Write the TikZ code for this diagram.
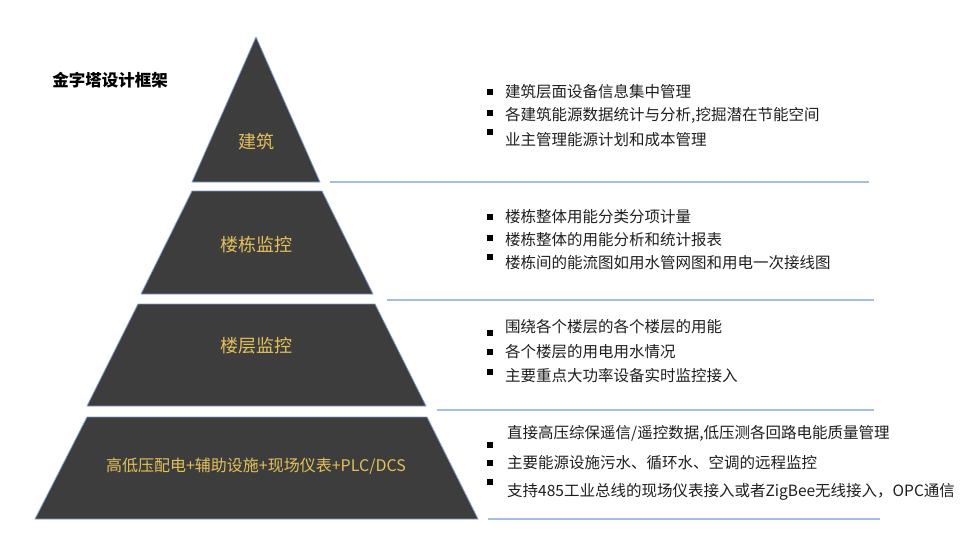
\documentclass[tikz,border=0pt]{standalone}
\usepackage{fontspec}
\setmainfont{Noto Sans CJK SC}
\usepackage{xcolor}
\usepackage{tikz}
\definecolor{pyrgray}{HTML}{3D3D3D}
\definecolor{pyredge}{HTML}{7F9DCF}
\definecolor{gold}{HTML}{E3C05A}
\definecolor{lineblue}{HTML}{A6BDE3}
\definecolor{textgray}{HTML}{1E1E1E}

\tikzset{
  band/.style={fill=pyrgray, draw=pyredge, line width=0.8pt, line join=round},
  bandlabel/.style={text=gold, inner sep=0pt, font=\fontsize{18}{20}\selectfont},
  sepline/.style={draw=lineblue, line width=2pt},
  bullet/.style={fill=black, minimum size=6pt, inner sep=0pt},
  itemtext/.style={anchor=west, inner sep=0pt, text=textgray, font=\fontsize{15.5}{18}\selectfont},
}

\begin{document}
\begin{tikzpicture}[x=1pt, y=-1pt]
\useasboundingbox (0,0) rectangle (960,539);

% pyramid bands
\filldraw[band] (256,37) -- (320,182) -- (192,182) -- cycle;
\filldraw[band] (192,191) -- (322,191) -- (373,294) -- (141,294) -- cycle;
\filldraw[band] (138,304) -- (375,304) -- (426,406) -- (87,406) -- cycle;
\filldraw[band] (87,417) -- (427,417) -- (478,519) -- (35,519) -- cycle;

% separator lines
\coordinate (sepA) at (330,182);
\coordinate (sepB) at (387,300);
\coordinate (sepC) at (437,410);
\coordinate (sepD) at (488,519);
\draw[sepline] (sepA) -- (869,182);
\draw[sepline] (sepB) -- (874,300);
\draw[sepline] (sepC) -- (874,410);
\draw[sepline] (sepD) -- (880,519);

% title
\node[font=\fontsize{16.5}{19}\selectfont\bfseries, inner sep=0pt] (title) at (110,80) {金字塔设计框架};

% band labels
\node[bandlabel] (building) at (256,142) {建筑};
\node[bandlabel] (block) at (256,245) {楼栋监控};
\node[bandlabel] (floor) at (256,346) {楼层监控};
\node[bandlabel, font=\fontsize{16}{19}\selectfont] (field) at (256,466) {高低压配电+辅助设施+现场仪表+PLC/DCS};

% building items
\node[bullet] (bA1) at (490,92) {};
\node[bullet] (bA2) at (490,113) {};
\node[bullet] (bA3) at (490,132) {};
\node[itemtext] (tA1) at (505,92) {建筑层面设备信息集中管理};
\node[itemtext] (tA2) at (505,115) {各建筑能源数据统计与分析,挖掘潜在节能空间};
\node[itemtext] (tA3) at (505,140) {业主管理能源计划和成本管理};

% block items
\node[bullet] (bB1) at (490,217) {};
\node[bullet] (bB2) at (490,238) {};
\node[bullet] (bB3) at (490,257) {};
\node[itemtext] (tB1) at (505,217) {楼栋整体用能分类分项计量};
\node[itemtext] (tB2) at (505,240) {楼栋整体的用能分析和统计报表};
\node[itemtext] (tB3) at (505,263) {楼栋间的能流图如用水管网图和用电一次接线图};

% floor items
\node[bullet] (bC1) at (490,333) {};
\node[bullet] (bC2) at (490,352) {};
\node[bullet] (bC3) at (490,372) {};
\node[itemtext] (tC1) at (505,327) {围绕各个楼层的各个楼层的用能};
\node[itemtext] (tC2) at (505,352) {各个楼层的用电用水情况};
\node[itemtext] (tC3) at (505,376) {主要重点大功率设备实时监控接入};

% field items
\node[bullet] (bD1) at (490,445) {};
\node[bullet] (bD2) at (490,463) {};
\node[bullet] (bD3) at (490,482) {};
\node[itemtext] (tD1) at (507,433) {直接高压综保遥信/遥控数据,低压测各回路电能质量管理};
\node[itemtext] (tD2) at (507,463) {主要能源设施污水、循环水、空调的远程监控};
\node[itemtext] (tD3) at (507,492) {支持485工业总线的现场仪表接入或者ZigBee无线接入，OPC通信};
\end{tikzpicture}
\end{document}
